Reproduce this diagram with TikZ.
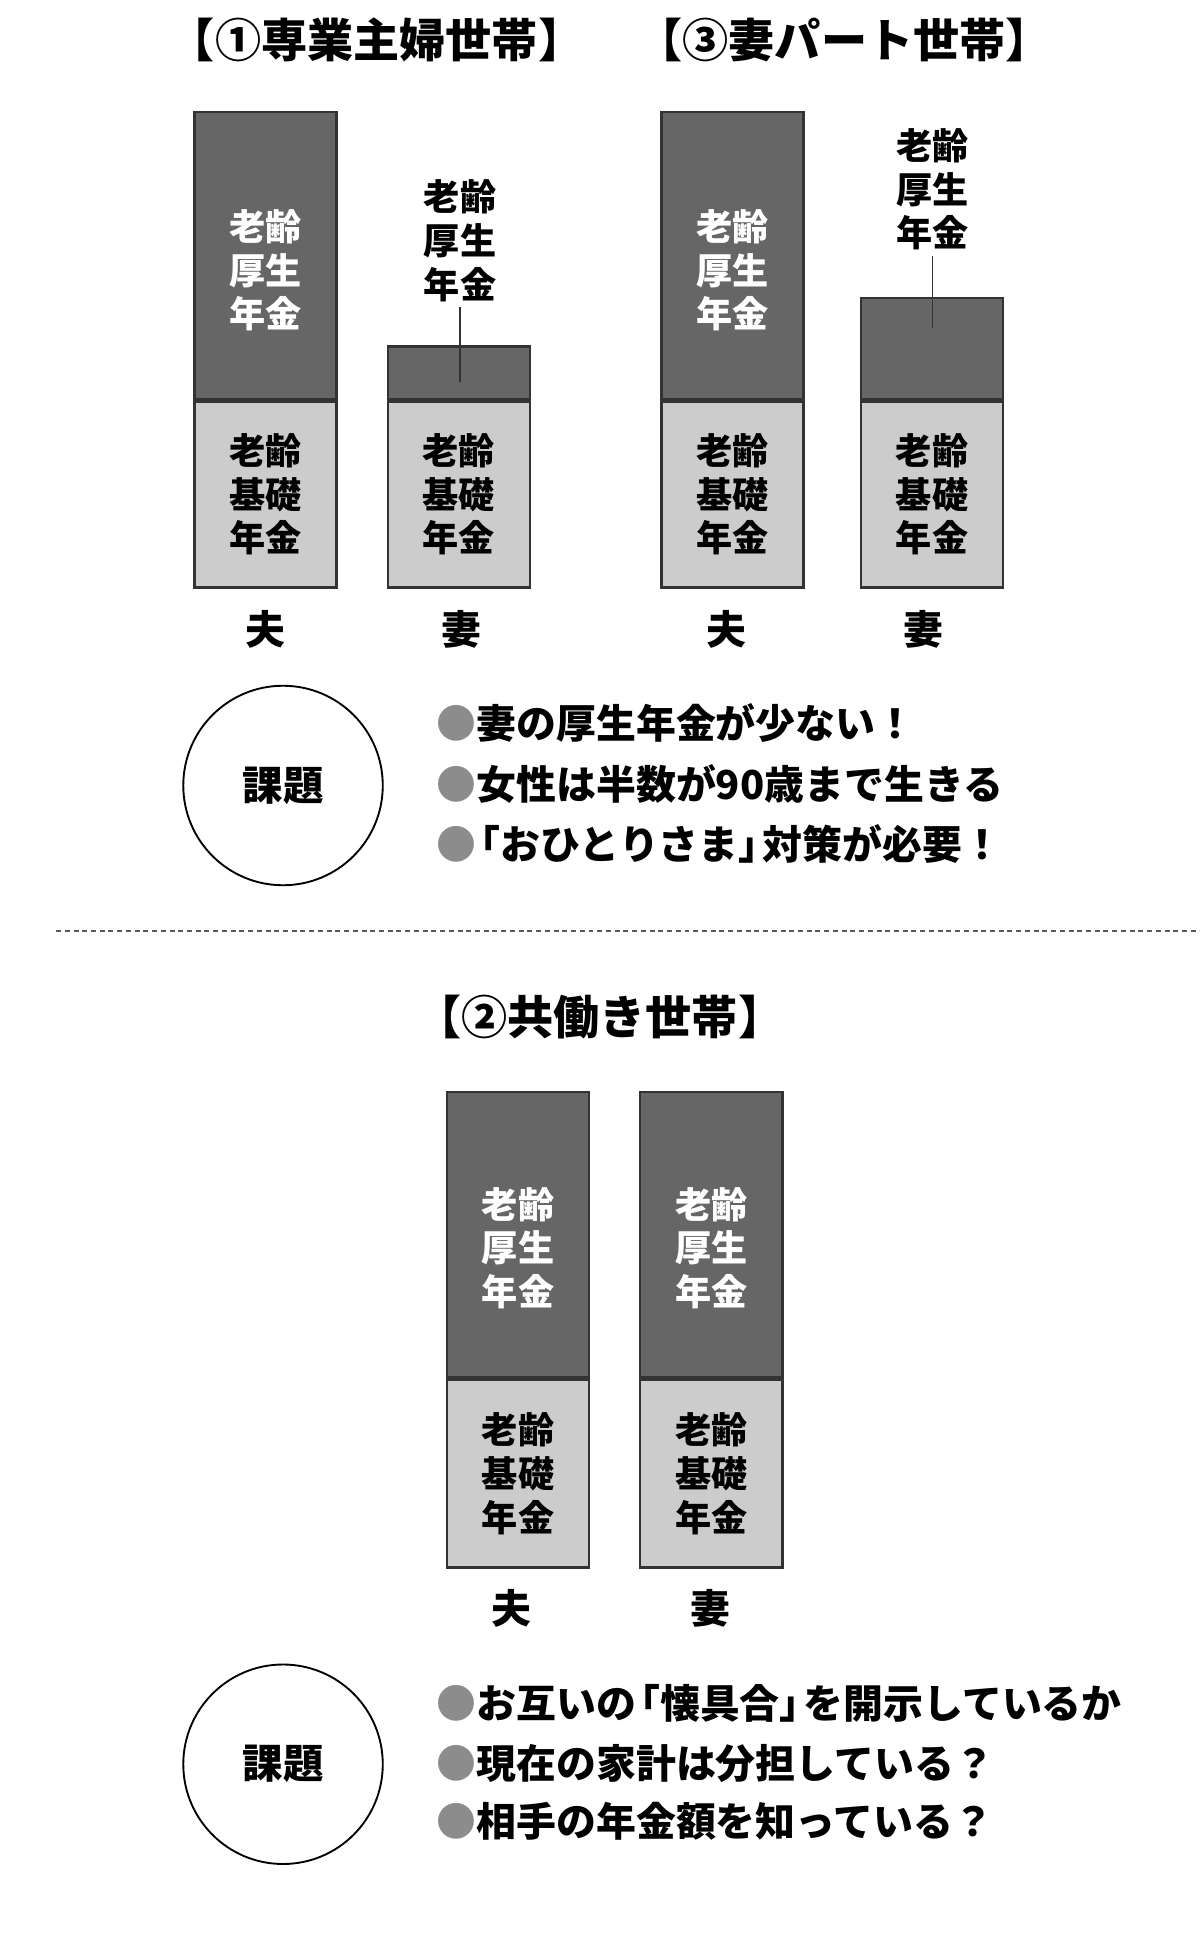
\documentclass[tikz,border=0pt]{standalone}
\usepackage{fontspec}
\newfontfamily\jp{Noto Sans CJK JP}
\newcommand\setfs[2]{\fontsize{#1}{#2}\selectfont}
\newcommand\opn{\hspace{-.4em}「}
\newcommand\cls{」\hspace{-.4em}}

\definecolor{darkbar}{HTML}{666666}
\definecolor{lightbar}{HTML}{CCCCCC}
\definecolor{barline}{HTML}{333333}
\definecolor{dotgray}{HTML}{8C8C8C}

\tikzset{
    kosei/.style={rectangle, draw=barline, fill=darkbar, line width=2pt, minimum width=114pt, inner sep=0pt},
    kiso/.style={rectangle, draw=barline, fill=lightbar, line width=2pt, minimum width=114pt, inner sep=0pt,
        align=center, font=\jp\bfseries\setfs{29}{35}},
    barlbl/.style={align=center, inner sep=4pt, font=\jp\bfseries\setfs{29}{35}},
    who/.style={font=\jp\bfseries\setfs{32}{36}},
    heading/.style={font=\jp\bfseries\setfs{37}{42}},
    kadai/.style={circle, draw=black, line width=1.5pt, minimum size=160pt, font=\jp\bfseries\setfs{32.5}{36}},
    point/.style={anchor=west, inner sep=0pt, font=\jp\bfseries\setfs{32}{36}},
}

\begin{document}
\begin{tikzpicture}[x=1pt, y={(0pt,-1pt)}]
    \useasboundingbox (0, 0) rectangle (962, 1568);

    % (1) full-time housewife
    \node[heading] (t1) at (302, 32) {【①専業主婦世帯】};
    \node[kosei, anchor=south, minimum height=230pt] (k1) at (213, 321) {};
    \node[kiso, anchor=north, minimum height=149pt] (b1) at (213, 321) {老齢\\基礎\\年金};
    \node[barlbl, text=white] (l1) at (213, 217) {老齢\\厚生\\年金};
    \node[kosei, anchor=south, minimum height=42pt] (k2) at (368, 321) {};
    \node[kiso, anchor=north, minimum height=149pt] (b2) at (368, 321) {老齢\\基礎\\年金};
    \node[barlbl] (l2) at (369, 193) {老齢\\厚生\\年金};
    \coordinate (e2) at (369, 306);
    \draw[line width=1pt, barline] (l2) -- (e2);
    \node[who] (h1) at (213, 505) {夫};
    \node[who] (w1) at (370, 505) {妻};

    % (3) part-time wife
    \node[heading] (t3) at (677, 32) {【③妻パート世帯】};
    \node[kosei, anchor=south, minimum height=230pt] (k3) at (587.5, 321) {};
    \node[kiso, anchor=north, minimum height=149pt] (b3) at (587.5, 321) {老齢\\基礎\\年金};
    \node[barlbl, text=white] (l3) at (587.5, 217) {老齢\\厚生\\年金};
    \node[kosei, anchor=south, minimum height=81pt] (k4) at (747.5, 321) {};
    \node[kiso, anchor=north, minimum height=149pt] (b4) at (747.5, 321) {老齢\\基礎\\年金};
    \node[barlbl] (l4) at (748, 152) {老齢\\厚生\\年金};
    \coordinate (e4) at (748, 263);
    \draw[line width=1pt, barline] (l4) -- (e4);
    \node[who] (h3) at (583, 505) {夫};
    \node[who] (w3) at (741, 505) {妻};

    \node[kadai] (c1) at (227, 630) {課題};
    \node[point] (p1) at (350, 580) {{\color{dotgray}●}妻の厚生年金が少ない！};
    \node[point] (p2) at (350, 629) {{\color{dotgray}●}女性は半数が90歳まで生きる};
    \node[point] (p3) at (350, 677) {{\color{dotgray}●}\opn おひとりさま\cls 対策が必要！};

    \draw[dashed, dash pattern=on 4pt off 3pt, line width=1.5pt, black!65] (45, 747) -- (962, 747);

    % (2) double income
    \node[heading] (t2) at (481, 816) {【②共働き世帯】};
    \node[kosei, anchor=south, minimum height=229pt] (k5) at (415.5, 1106) {};
    \node[kiso, anchor=north, minimum height=150pt] (b5) at (415.5, 1106) {老齢\\基礎\\年金};
    \node[barlbl, text=white] (l5) at (415.5, 1001) {老齢\\厚生\\年金};
    \node[kosei, anchor=south, minimum height=229pt] (k6) at (570.5, 1106) {};
    \node[kiso, anchor=north, minimum height=150pt] (b6) at (570.5, 1106) {老齢\\基礎\\年金};
    \node[barlbl, text=white] (l6) at (570.5, 1001) {老齢\\厚生\\年金};
    \node[who] (h2) at (410, 1290) {夫};
    \node[who] (w2) at (570, 1290) {妻};

    \node[kadai] (c2) at (227, 1415) {課題};
    \node[point] (p4) at (350, 1366) {{\color{dotgray}●}お互いの\opn 懐具合\cls を開示しているか};
    \node[point] (p5) at (350, 1414) {{\color{dotgray}●}現在の家計は分担している？};
    \node[point] (p6) at (350, 1461) {{\color{dotgray}●}相手の年金額を知っている？};
\end{tikzpicture}
\end{document}
